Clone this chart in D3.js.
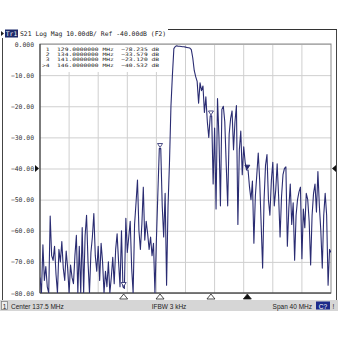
<!DOCTYPE html>
<html>
<head>
<meta charset="utf-8">
<script src="https://cdn.jsdelivr.net/npm/d3@7"></script>
<style>
  body { margin: 0; background: #fff; }
  svg { display: block; }
  .mono { font-family: "DejaVu Sans Mono", "Liberation Mono", monospace; }
  .sans { font-family: "Liberation Sans", Arial, sans-serif; }
</style>
</head>
<body>
<div id="chart"></div>
<script>
// axis settings
const yTicks = [0, -10, -20, -30, -40, -50, -60, -70, -80];
const centerMHz = 137.5;
const spanMHz = 40;
const refDb = -40;
const traceStepMHz = 0.2; // 201 points over the span

// S21 trace, dB, one value per step from the start frequency
const traceDb = [
  -75, -80, -64.5, -76, -71.5, -78, -80, -55.3, -68, -69.5,
  -65, -74, -80, -66, -70, -63.5, -72, -76, -66.5, -72,
  -80, -71, -75, -77, -68, -61.5, -80, -65, -80, -59,
  -80, -61.5, -55, -70, -80, -67, -62, -54.5, -68, -73,
  -65, -76, -64, -70, -80, -73, -78, -70, -80, -75,
  -68.5, -77, -66, -61, -70, -78, -60, -78, -78.5, -56,
  -67, -62, -57, -72, -80, -58, -51, -43.7, -60, -66,
  -58, -46, -63, -57, -61, -66, -62, -68, -64, -80,
  -63, -48, -33.6, -33.6, -52, -62, -48, -77.5, -52, -38,
  -20, -10, -1.5, -0.8, -0.6, -0.7, -0.7, -0.8, -0.9, -0.9,
  -1.0, -1.1, -1.2, -1.3, -1.8, -4.5, -8.5, -10.5, -12, -19,
  -12.5, -15, -13.5, -22, -17, -25, -30, -23.1, -23.1, -45,
  -27, -53, -17.5, -30, -52, -21, -20, -25, -39, -52,
  -29, -24, -21.5, -34, -25, -19.8, -58, -34, -28, -42,
  -33, -38, -40.5, -40.5, -46, -50, -44, -64, -49, -42,
  -35, -44, -58, -72, -50, -39, -35.5, -50, -55, -44,
  -38, -52, -47, -38.5, -49, -62, -49, -42, -40, -39.5,
  -65, -53, -45, -58, -51, -69.5, -55, -50, -47.5, -46,
  -69, -53, -59, -48, -50, -57, -71, -55, -48, -45,
  -54, -41, -52, -60, -72, -55, -48, -55, -77.5, -66,
  -67
];

// marker table
const markerIds = ["1", "2", "3", "4"];
const markerMHz = [129, 134, 141, 146];
const markerDb = [-78.235, -33.579, -23.120, -40.532];
const activeMarker = "4";

const W = 340, H = 340;
const plot = { left: 40, top: 44, right: 331, bottom: 293 };

const svg = d3.select("#chart").append("svg")
  .attr("width", W)
  .attr("height", H);

const startMHz = centerMHz - spanMHz / 2;
const x = d3.scaleLinear()
  .domain([startMHz, startMHz + spanMHz])
  .range([plot.left, plot.right]);
const y = d3.scaleLinear()
  .domain([-80, 0])
  .range([plot.bottom, plot.top]);

// header line
svg.append("line")
  .attr("x1", 168).attr("x2", 337)
  .attr("y1", 29.5).attr("y2", 29.5)
  .attr("stroke", "#333").attr("stroke-width", 1);
svg.append("path")
  .attr("d", "M1,31 L4,33.5 L1,36 Z")
  .attr("fill", "#222");
svg.append("rect")
  .attr("x", 5).attr("y", 29.5).attr("width", 13).attr("height", 8)
  .attr("fill", "#1c2a6a");
svg.append("text")
  .attr("class", "mono")
  .attr("x", 11.5).attr("y", 36)
  .attr("text-anchor", "middle")
  .attr("font-size", 6.3)
  .attr("fill", "#fff")
  .text("Tr1");
svg.append("text")
  .attr("class", "mono")
  .attr("x", 20).attr("y", 36)
  .attr("font-size", 6.4)
  .attr("fill", "#222")
  .text(`S21 Log Mag 10.00dB/ Ref ${refDb.toFixed(2)}dB (F2)`);

// outer frame
svg.append("path")
  .attr("d", "M2.5,38 V300 M336.5,30 V300")
  .attr("stroke", "#444").attr("stroke-width", 1).attr("fill", "none");

// grid
const xTicks = d3.range(0, 11).map(i => startMHz + i * spanMHz / 10);
svg.append("g")
  .selectAll("line.vg")
  .data(xTicks.slice(1, -1))
  .join("line")
  .attr("x1", d => x(d)).attr("x2", d => x(d))
  .attr("y1", plot.top).attr("y2", plot.bottom)
  .attr("stroke", "#cfcfcf").attr("stroke-width", 1);

const yAxis = d3.axisLeft(y)
  .tickValues(yTicks)
  .tickSize(-(plot.right - plot.left))
  .tickPadding(6)
  .tickFormat(d => d === 0 ? "0.000" : d3.format(".2f")(d));

const yg = svg.append("g")
  .attr("transform", `translate(${plot.left},0)`)
  .call(yAxis);
yg.select(".domain").remove();
yg.selectAll(".tick line").attr("stroke", "#cfcfcf");
yg.selectAll(".tick text")
  .attr("class", "mono")
  .attr("font-size", 6.4)
  .attr("fill", "#333");

// marker table background
svg.append("rect")
  .attr("x", plot.left + 1).attr("y", plot.top + 1)
  .attr("width", 126).attr("height", 27)
  .attr("fill", "#fff");

// plot border
svg.append("rect")
  .attr("x", plot.left).attr("y", plot.top)
  .attr("width", plot.right - plot.left)
  .attr("height", plot.bottom - plot.top)
  .attr("fill", "none")
  .attr("stroke", "#8a8a8a").attr("stroke-width", 1);
svg.append("line")
  .attr("x1", plot.left).attr("x2", plot.left)
  .attr("y1", plot.top).attr("y2", plot.bottom)
  .attr("stroke", "#333");
svg.append("line")
  .attr("x1", plot.left).attr("x2", plot.right)
  .attr("y1", plot.bottom).attr("y2", plot.bottom)
  .attr("stroke", "#333");

// trace
svg.append("clipPath").attr("id", "clip")
  .append("rect")
  .attr("x", plot.left).attr("y", plot.top)
  .attr("width", plot.right - plot.left)
  .attr("height", plot.bottom - plot.top);

const line = d3.line()
  .x((d, i) => x(startMHz + i * traceStepMHz))
  .y(d => y(d));

svg.append("path")
  .datum(traceDb)
  .attr("clip-path", "url(#clip)")
  .attr("d", line)
  .attr("fill", "none")
  .attr("stroke", "#2a2c72")
  .attr("stroke-width", 1.1)
  .attr("stroke-linejoin", "round");

// marker readout lines (tight 5px rows, as on the instrument)
markerIds.forEach((id, i) => {
  const prefix = id === activeMarker ? ">" + id : " " + id;
  const val = d3.format(".3f")(markerDb[i]);
  svg.append("text")
    .attr("class", "mono")
    .attr("x", 42)
    .attr("y", 51 + i * 5.2)
    .attr("font-size", 4.6)
    .attr("textLength", 117)
    .attr("lengthAdjust", "spacingAndGlyphs")
    .attr("fill", "#222")
    .style("white-space", "pre")
    .text(`${prefix}  ${markerMHz[i].toFixed(7)} MHz  ${val} dB`);
});

// markers on the trace
markerIds.forEach((id, i) => {
  const mx = x(markerMHz[i]), my = y(markerDb[i]);
  svg.append("path")
    .attr("d", `M${mx - 2.5},${my - 5} L${mx + 2.5},${my - 5} L${mx},${my - 1} Z`)
    .attr("fill", id === activeMarker ? "#22236a" : "#fff")
    .attr("stroke", "#22236a").attr("stroke-width", 0.8);
  // marker triangles under the grid
  svg.append("path")
    .attr("d", `M${mx},${plot.bottom + 1} L${mx + 4},${plot.bottom + 6} L${mx - 4},${plot.bottom + 6} Z`)
    .attr("fill", id === activeMarker ? "#111" : "#fff")
    .attr("stroke", "#222").attr("stroke-width", 0.8);
});

// reference level arrows
const ry = y(refDb);
svg.append("path")
  .attr("d", `M${plot.left - 5},${ry - 3.5} L${plot.left - 1},${ry} L${plot.left - 5},${ry + 3.5} Z`)
  .attr("fill", "#111");
svg.append("path")
  .attr("d", `M${plot.right + 5},${ry - 3.5} L${plot.right + 1},${ry} L${plot.right + 5},${ry + 3.5} Z`)
  .attr("fill", "#111");

// status bar
svg.append("rect")
  .attr("x", 0).attr("y", 300)
  .attr("width", 338).attr("height", 11)
  .attr("fill", "#d6d6d6");
svg.append("rect")
  .attr("x", 1.5).attr("y", 301.5)
  .attr("width", 6).attr("height", 8)
  .attr("fill", "#eee").attr("stroke", "#777").attr("stroke-width", 0.7);
svg.append("text").attr("class", "sans")
  .attr("x", 4.5).attr("y", 308.5).attr("text-anchor", "middle")
  .attr("font-size", 6.5).attr("fill", "#222").text("1");
svg.append("text").attr("class", "sans")
  .attr("x", 11).attr("y", 308.5)
  .attr("font-size", 6.5).attr("fill", "#222")
  .text(`Center ${centerMHz} MHz`);
svg.append("text").attr("class", "sans")
  .attr("x", 169).attr("y", 308.5).attr("text-anchor", "middle")
  .attr("font-size", 6.5).attr("fill", "#222")
  .text("IFBW 3 kHz");
svg.append("text").attr("class", "sans")
  .attr("x", 312).attr("y", 308.5).attr("text-anchor", "end")
  .attr("font-size", 6.5).attr("fill", "#222")
  .text(`Span ${spanMHz} MHz`);
svg.append("rect")
  .attr("x", 316).attr("y", 301.5).attr("width", 14).attr("height", 8)
  .attr("fill", "#1c2a8a");
svg.append("text").attr("class", "sans")
  .attr("x", 323).attr("y", 308.5).attr("text-anchor", "middle")
  .attr("font-size", 6.5).attr("fill", "#fff").text("C?");
svg.append("text").attr("class", "sans")
  .attr("x", 333.5).attr("y", 308.5).attr("text-anchor", "middle")
  .attr("font-size", 6.5).attr("fill", "#222").text("!");
</script>
</body>
</html>
